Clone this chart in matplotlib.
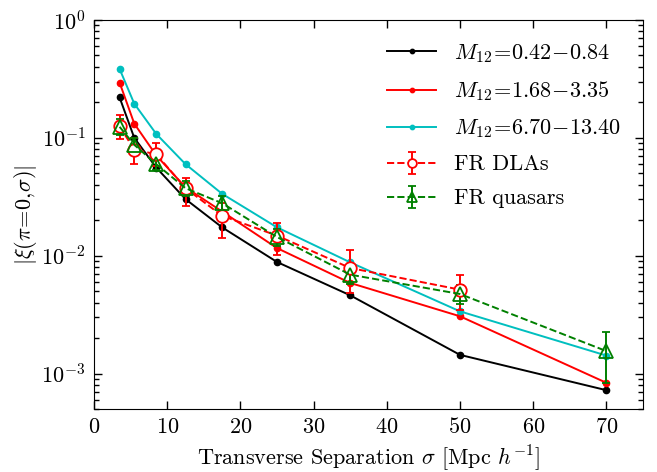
import matplotlib
matplotlib.use("Agg")
import matplotlib.pyplot as plt
import numpy as np

plt.rcParams['font.family'] = 'serif'
plt.rcParams['font.serif'] = ['cmr10', 'DejaVu Serif']
plt.rcParams['mathtext.fontset'] = 'cm'
plt.rcParams['axes.formatter.use_mathtext'] = True
plt.rcParams['font.size'] = 16

sigma = [3.5, 5.5, 8.5, 12.5, 17.5, 25, 35, 50, 70]
xi_m1 = [0.220, 0.100, 0.056, 0.0302, 0.0174, 0.00884, 0.00461, 0.00144, 0.000722]
xi_m2 = [0.294, 0.132, 0.071, 0.038, 0.0237, 0.0116, 0.00587, 0.00306, 0.000834]
xi_m3 = [0.384, 0.195, 0.108, 0.0598, 0.0335, 0.0174, 0.00878, 0.00337, 0.00142]

sigma_dla = [3.5, 5.5, 8.5, 12.5, 17.5, 25, 35, 50]
xi_dla = [0.126, 0.079, 0.0728, 0.0374, 0.0218, 0.0148, 0.00786, 0.00515]
dla_lo = [0.0975, 0.0598, 0.058, 0.0262, 0.0141, 0.0102, 0.00483, 0.00349]
dla_hi = [0.157, 0.100, 0.090, 0.0455, 0.028, 0.0191, 0.0111, 0.00681]

sigma_qso = [3.5, 5.5, 8.5, 12.5, 17.5, 25, 35, 50, 70]
xi_qso = [0.124, 0.0873, 0.0598, 0.0374, 0.0279, 0.0144, 0.0069, 0.00473, 0.00155]
qso_lo = [0.105, 0.075, 0.053, 0.032, 0.024, 0.012, 0.0058, 0.0039, 0.000834]
qso_hi = [0.145, 0.100, 0.067, 0.043, 0.032, 0.017, 0.0082, 0.0056, 0.00224]

labels = [r'$M_{12}\!=\!0.42\!-\!0.84$', r'$M_{12}\!=\!1.68\!-\!3.35$',
          r'$M_{12}\!=\!6.70\!-\!13.40$', 'FR DLAs', 'FR quasars']

fig = plt.figure(figsize=(6.57, 4.72), dpi=100)
ax = fig.add_axes([94/657, 1-409/472, (643-94)/657, (409-20)/472])

ax.plot(sigma, xi_m1, '-o', color='k', ms=4.5, lw=1.4, label=labels[0])
ax.plot(sigma, xi_m2, '-o', color='r', ms=4.5, lw=1.4, label=labels[1])
ax.plot(sigma, xi_m3, '-o', color='c', ms=4.5, lw=1.4, mec='c', label=labels[2])

xd = np.array(xi_dla)
ax.errorbar(sigma_dla, xd, yerr=[xd - np.array(dla_lo), np.array(dla_hi) - xd],
            fmt='--o', color='r', mfc='white', mec='r', ms=9, mew=1.3, lw=1.4,
            capsize=3, elinewidth=1.4, capthick=1.4, label=labels[3])
xq = np.array(xi_qso)
ax.errorbar(sigma_qso, xq, yerr=[xq - np.array(qso_lo), np.array(qso_hi) - xq],
            fmt='--^', color='g', mfc='none', mec='g', ms=10, mew=1.3, lw=1.4,
            capsize=3, elinewidth=1.4, capthick=1.4, label=labels[4])

ax.set_yscale('log')
ax.set_xlim(0, 75)
ax.set_ylim(5e-4, 1)
ax.set_xticks([0, 10, 20, 30, 40, 50, 60, 70])
ax.tick_params(which='both', direction='in', top=True, right=True, pad=6)
ax.tick_params(which='major', length=6, width=1)
ax.tick_params(which='minor', length=3.5, width=1)
ax.set_xlabel(r'Transverse Separation $\sigma$ [Mpc $h^{-1}$]', labelpad=4)
ax.set_ylabel(r'$|\xi(\pi\!=\!0,\!\sigma)|$', labelpad=2)

ax.legend(loc='upper right', frameon=False, numpoints=1, handlelength=2.2,
          fontsize=16, labelspacing=0.65, borderaxespad=0.6, markerscale=0.7,
          handletextpad=0.8)

fig.savefig('out.png', dpi=100)
